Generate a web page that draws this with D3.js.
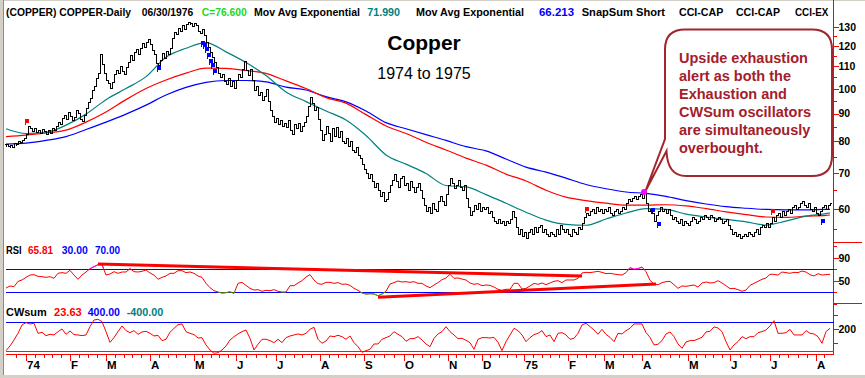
<!DOCTYPE html>
<html><head><meta charset="utf-8">
<script src="https://cdnjs.cloudflare.com/ajax/libs/d3/7.8.5/d3.min.js"></script>
<style>
html,body{margin:0;padding:0;background:#fff;}
svg{display:block;font-family:"Liberation Sans",Arial,Helvetica,sans-serif;}
</style></head><body>
<svg id="c" width="865" height="378"></svg>
<script>
// ---------------- DATA ----------------
// daily closes (one per trading day, late Dec 1973 .. early Aug 1975)
const closes = [
79.0,78.4,78.8,78.2,79.5,79.0,80.2,79.6,80.5,81.0,
82.5,85.5,84.8,83.6,84.5,83.2,84.0,82.8,84.2,83.5,
82.6,84.0,83.0,84.6,83.8,85.5,87.0,86.2,88.5,89.5,
88.0,90.5,89.2,87.5,88.8,91.5,90.2,88.0,87.2,89.5,
92.0,94.5,96.0,99.5,101.0,104.5,107.0,116.0,111.0,107.0,
104.0,102.5,100.5,103.0,106.5,108.5,107.0,110.0,108.0,106.5,
109.5,112.0,115.5,113.0,117.0,118.5,116.0,119.0,121.5,119.5,
122.0,123.5,121.0,118.0,116.0,111.5,110.5,113.0,116.5,114.0,
117.5,116.0,119.0,124.0,127.5,126.0,129.5,128.0,131.0,129.0,
131.5,133.0,132.0,130.5,132.5,131.0,128.0,126.5,129.0,125.5,
122.0,119.5,117.0,114.5,112.0,109.5,107.0,105.0,106.5,103.5,
102.0,104.5,101.0,103.5,100.5,104.0,106.5,105.0,109.0,112.5,
108.5,106.0,109.0,104.0,99.5,101.0,97.5,98.5,95.5,97.0,
100.0,95.0,91.5,89.0,87.0,88.5,86.0,87.5,85.5,86.5,
85.0,87.5,84.0,82.5,86.0,84.5,86.5,83.5,85.5,87.0,
89.0,93.0,96.5,94.0,91.5,92.5,88.0,84.0,80.5,82.5,
85.5,83.0,80.0,84.5,82.0,85.0,81.5,83.5,80.0,79.5,
81.0,78.5,80.0,77.0,76.5,78.0,75.5,74.5,72.5,71.0,
70.0,68.5,69.5,67.5,66.0,67.0,65.0,63.5,64.5,62.0,
62.5,64.5,66.5,68.0,69.5,67.5,66.0,68.5,69.0,66.5,
67.0,65.0,67.5,66.0,64.5,66.0,67.0,65.0,63.0,61.0,
59.5,60.5,59.0,61.5,60.0,59.5,62.0,63.5,62.0,61.0,
64.0,66.5,68.5,67.0,65.5,66.5,68.0,66.0,65.0,66.5,
63.0,60.5,58.5,59.5,61.0,60.0,61.5,59.5,60.5,60.0,
60.5,59.0,59.5,58.0,57.0,56.5,57.5,56.5,57.0,56.0,
57.0,56.5,57.5,59.5,58.0,55.5,54.0,55.0,53.5,54.5,
53.0,54.5,55.0,54.0,55.5,54.5,55.5,56.0,54.5,55.0,
54.0,53.5,54.5,54.0,53.5,55.0,54.0,56.0,55.0,54.5,
55.0,54.0,53.5,55.0,54.5,54.0,55.5,55.0,56.5,58.0,
59.0,58.5,59.5,60.0,59.0,60.5,59.5,60.0,59.0,60.0,
59.5,60.5,59.0,58.5,59.5,60.0,59.0,59.5,60.5,60.0,
61.5,62.5,62.0,63.0,63.5,62.5,63.5,64.0,63.0,64.5,
61.5,59.5,60.0,59.0,57.0,58.5,59.5,60.5,59.5,60.0,
59.0,60.0,58.5,57.5,58.0,57.0,56.5,57.5,56.0,57.0,
56.5,56.0,57.0,58.0,57.5,56.5,57.0,58.0,57.5,58.5,
58.0,57.5,58.5,58.0,57.0,57.5,58.0,57.5,56.5,57.0,
57.5,56.0,55.0,54.0,54.5,53.5,54.0,53.0,53.5,54.0,
53.5,54.5,54.0,53.5,54.5,55.0,54.0,55.5,56.0,55.5,
56.5,55.5,56.5,58.0,57.0,58.5,59.0,58.0,59.5,58.5,
59.5,60.0,59.0,60.5,61.0,60.0,60.5,61.5,62.0,61.0,
60.5,61.5,60.0,59.5,60.5,59.0,58.5,59.5,60.5,61.0,
60.0,61.0,61.5
];
// moving averages, read every 10 trading days (last point = last bar)
const tealMA = [84.4,82.7,83.1,85.7,89.8,95.5,100.1,105.3,114.4,118.8,121.7,117.0,111.8,105.8,98.7,94.7,91.0,87.6,82.0,75.5,72.6,69.8,66.3,65.9,63.8,61.5,59.2,57.25,56.2,56.0,57.5,59.0,60.1,59.9,58.7,58.0,57.4,56.8,56.05,57.0,58.2,58.85,59.0];
const redMA  = [81.6,82.1,82.9,83.9,86.8,90.6,95.5,100.1,103.8,106.9,109.2,109.1,108.1,106.8,103.4,100.1,96.3,94.1,89.6,85.4,82.7,79.7,77.1,74.5,72.3,69.6,67.6,65.0,63.1,62.2,61.5,61.0,61.0,61.1,60.8,60.1,59.3,58.6,58.0,57.9,58.2,58.4,58.5];
const blueMA = [79.1,79.4,80.3,81.6,84.1,86.8,89.8,93.3,97.4,100.6,102.8,103.6,103.6,103.0,100.7,99.5,96.7,94.6,91.0,86.6,84.4,82.3,80.3,78.2,76.8,74.2,71.7,70.2,68.4,66.6,65.4,64.5,64.1,63.3,62.2,61.3,60.6,60.2,59.9,59.8,59.8,59.9,59.9];
// RSI, read every 2 trading days
const rsi = [37.5,41,39.8,49,51.4,56,60,60.7,57.8,57.2,
56,57.2,54.3,63,64.2,63,68.2,60,52.6,60,
65.3,71.1,74.6,78,78,60,61.8,65.9,63,65.3,
65.3,71.1,65.9,65.3,66.5,68.8,63.6,60,52.6,56,
58.4,63,63,67.6,67.6,64.2,65.3,63,58.4,56,
45.6,38,32.8,30.5,28.8,29.4,31,28.2,45.6,47.3,
42,36.9,34,34.6,31.7,33.4,32.8,34.6,31.7,30.5,
30.5,41.5,41.5,46.2,50.2,56.6,60.7,51.4,45,43.9,
47.3,47.3,45.6,46.8,43.9,44.4,42,36.9,33.4,28.8,
27,27.6,27,24.1,27,31.7,44.4,46.8,49.7,47.9,
48.5,47.3,48.5,45.6,45.6,41,
38.1,42.7,46.8,52,54.9,61.3,54.3,54.9,53.1,51.4,
46.2,43.9,45,41.5,42.7,42,39.2,35.2,33.4,35.2,
35.2,45.6,45.6,35.7,36.9,41,45.6,43.9,46.2,43.3,
46.2,49.1,50.2,46.8,51.4,51.4,51.4,54.3,63.6,64.7,
64.2,65.3,66.5,64.7,62.4,63,61.8,60.7,60,64.2,
72.9,70,71.1,74,65.9,50.8,44.4,43.3,46.8,48.5,
49.1,43.3,36.9,41,40.4,41.5,42.7,39.2,46.2,47.9,
46.2,46.8,50.2,46.2,41.5,36.3,36.9,34.6,31.7,34,
42,45.6,49.1,52.6,54.9,61.3,61.3,60,65.3,64.2,
63,64.7,64.2,67,65.3,60.7,58.4,62.4,60,60.7,61.3];
// CWsum, read every 2 trading days
const cwsum = [-404,-272,-101,88,324,391,353,372,88,116,
22,59,41,135,211,59,154,50,41,22,
41,277,466,485,419,135,-168,-35,135,296,
164,107,164,59,126,145,88,12,31,-120,
-82,116,230,334,353,135,88,50,-45,-35,
-243,-385,-480,-461,-385,-272,-101,-7,69,135,
182,-54,-385,-224,-82,-82,-120,-177,-82,-177,
-35,12,41,69,41,88,201,258,-82,-196,
-130,12,-7,31,-7,-82,12,-177,-291,-451,
-404,-366,-215,-215,-82,-35,12,135,59,-7,
-139,-64,-64,-7,-101,-215,
-291,-54,69,135,277,135,41,-64,-54,-111,
-177,-366,-82,-35,-35,-45,-26,-168,-404,-149,
41,230,164,41,-149,-35,50,88,164,-7,
41,-149,88,107,41,-82,-54,88,324,372,
277,182,59,201,59,-26,-149,88,69,164,
230,353,353,353,107,-26,-243,-224,-120,69,
126,-7,-215,-338,-158,-120,-120,-73,-26,126,
145,268,239,135,-149,-385,-243,-149,-7,-64,
-7,-7,107,135,182,296,447,88,88,107,
201,41,41,41,164,88,69,-7,-196,135,230];
// calendar
const monthLabels = ["74","F","M","A","M","J","J","A","S","O","N","D","75","F","M","A","M","J","J","A"];
const leadingBars = 10;
const tradingDaysPerMonth = [22,18,22,22,21,20,22,22,20,22,17,21,22,18,19,23,21,20,23,8];
// axis ticks
const priceTicks = [60,70,80,90,100,110,120,130];
const priceMinorTicks = [55,65,75,85,95,105,115,125];
const rsiTicks = [90,50];
const rsiMinorTicks = [110,70,30,10];
const cwTicks = [200];
const cwMinorTicks = [600,-200];
const rsiLevels = [70,30];
const cwLevels = [400,-400];
// RSI trend lines [barIndex, rsi] pairs
const rsiTrend = [[[46,79.2],[288,58.3]],[[186,21.3],[325,44.4]]];
// signal markers [barIndex, price]
const redFlags = [[10,86.2],[290,59.2],[383,58.7]];
const blueFlags = [[76,110],[98,122.5],[99,121.5],[100,119.5],[101,116.2],[102,113.7],[103,111.4],[104,108.6],[323,60.3],[326,56.9],[408,57.5]];
const magentaDots = [[319,64.5]];
// header
const header = [
 ["(COPPER) COPPER-Daily","#000"],["06/30/1976","#000"],["C=76.600","#22d822"],
 ["Mov Avg Exponential","#000"],["71.990","#008080"],["Mov Avg Exponential","#000"],
 ["66.213","#0000ff"],["SnapSum Short","#000"],["CCI-CAP","#000"],["CCI-CAP","#000"],["CCI-EX","#000"]];
const rsiLegend = [["RSI","#000"],["65.81","#ff0000"],["30.00","#0000ff"],["70.00","#0000ff"]];
const cwLegend = [["CWsum","#000"],["23.63","#ff0000"],["400.00","#0000ff"],["-400.00","#008080"]];
const calloutLines = ["Upside exhaustion","alert as both the","Exhaustion and","CWSum oscillators","are simultaneously","overbought."];

// ---------------- DRAW ----------------
const svg = d3.select("#c");
const N = closes.length;
const AX = 833.5;
const x = d3.scaleLinear().domain([0, N-1]).range([6, 830]);
const y = d3.scaleLog().domain([52.6, 135.1]).range([240, 18]);
const yR = d3.scaleLinear().domain([30, 70]).range([292.3, 269.3]);
const yC = d3.scaleLinear().domain([-400, 400]).range([350.5, 322.3]);
const px = i => Math.round(x(i)) + 0.5;

svg.append("rect").attr("width",865).attr("height",378).attr("fill","#fff");
// frame
svg.append("rect").attr("x",0).attr("y",0).attr("width",865).attr("height",1).attr("fill","#d4d0c8");
svg.append("rect").attr("x",0).attr("y",0).attr("width",3).attr("height",378).attr("fill","#d4d0c8");
svg.append("rect").attr("x",3).attr("y",0).attr("width",1).attr("height",375).attr("fill","#8a8a8a");
svg.append("rect").attr("x",0).attr("y",375).attr("width",865).attr("height",3).attr("fill","#d4d0c8");

// header
const hx = [6,141.7,201.7,254,367.3,416,539,581.7,679,736,795];
const hw = [125,51.6,45,106,32.7,108,35,83.3,44.3,44,33.3];
svg.append("g").selectAll("text").data(header).join("text")
  .attr("x",(d,i)=>hx[i]).attr("y",15.5).attr("fill",d=>d[1])
  .attr("font-size",11).attr("font-weight","bold")
  .attr("textLength",(d,i)=>hw[i]).attr("lengthAdjust","spacingAndGlyphs").text(d=>d[0]);

// title
svg.append("text").attr("x",424).attr("y",50).attr("text-anchor","middle")
  .attr("font-size",21).attr("font-weight","bold").attr("fill","#000").text("Copper");
svg.append("text").attr("x",424).attr("y",79).attr("text-anchor","middle")
  .attr("font-size",16).attr("fill","#000").text("1974 to 1975");

// moving averages
const maLine = d3.line().x((d,k)=>x(Math.min(k*10, N-1))).y(d=>y(d)).curve(d3.curveMonotoneX);
[[blueMA,"#0000ff"],[redMA,"#ff0000"],[tealMA,"#008080"]].forEach(([arr,c])=>{
  svg.append("path").attr("d",maLine(arr)).attr("fill","none").attr("stroke",c).attr("stroke-width",1.2);
});

// price bars (open = previous close)
const gb = svg.append("g").attr("fill","#000").attr("shape-rendering","crispEdges");
closes.forEach((c,i)=>{
  const o = i>0 ? closes[i-1] : c;
  const X = Math.round(x(i));
  const yt = Math.round(y(Math.max(o,c))), yb = Math.round(y(Math.min(o,c)));
  gb.append("rect").attr("x",X).attr("y",yt).attr("width",1).attr("height",Math.max(3,yb-yt+1));
  gb.append("rect").attr("x",X-1).attr("y",Math.round(y(o))).attr("width",1).attr("height",1);
  gb.append("rect").attr("x",X+1).attr("y",Math.round(y(c))).attr("width",1).attr("height",1);
});

// flags
function flag(g, i, v, color, up){
  const X = Math.round(x(i)), Y = Math.round(y(v));
  g.append("rect").attr("x",X-1).attr("y",up?Y-5:Y).attr("width",4).attr("height",4).attr("fill",color);
  g.append("rect").attr("x",X-1).attr("y",up?Y-1:Y+4).attr("width",1).attr("height",2).attr("fill",color);
}
const gf = svg.append("g").attr("shape-rendering","crispEdges");
redFlags.forEach(d=>flag(gf,d[0],d[1],"#ff0000",true));
blueFlags.forEach(d=>flag(gf,d[0],d[1],"#0000ff",false));

// callout
const cp = "M685,29.5 H812 Q832,29.5 832,49.5 V156 Q832,176 812,176 H686 Q667.5,176 666.5,151 L645.5,191 L665,139 V49.5 Q665,29.5 685,29.5 Z";
svg.append("path").attr("d",cp).attr("fill","#fff").attr("stroke","#a3262c").attr("stroke-width",2);
svg.append("g").selectAll("text").data(calloutLines).join("text")
  .attr("x",679).attr("y",(d,i)=>63.3+i*17.9).attr("fill","#a3202a")
  .attr("font-size",14.5).attr("font-weight","bold").text(d=>d);
magentaDots.forEach(d=>svg.append("circle").attr("cx",x(d[0])).attr("cy",y(d[1])).attr("r",3).attr("fill","#ff00ff"));

// right axis (red)
const ga = svg.append("g").attr("stroke","#ff0000").attr("shape-rendering","crispEdges");
ga.append("line").attr("x1",AX).attr("x2",AX).attr("y1",0).attr("y2",355);
ga.append("line").attr("x1",AX).attr("x2",862).attr("y1",242.5).attr("y2",242.5);
ga.append("line").attr("x1",AX).attr("x2",862).attr("y1",303.5).attr("y2",303.5);
function ticks(vals, sc, len){ vals.forEach(v=>{const Y=Math.round(sc(v))+0.5; ga.append("line").attr("x1",AX).attr("x2",AX+len).attr("y1",Y).attr("y2",Y);}); }
ticks(priceTicks,y,5); ticks(priceMinorTicks,y,3);
ticks(rsiTicks,yR,5); ticks(rsiMinorTicks,yR,3);
ticks(cwTicks,yC,5); ticks(cwMinorTicks,yC,4);
const gl = svg.append("g").attr("font-size",10.5).attr("font-weight","bold").attr("fill","#000");
function labels(vals, sc){ vals.forEach(v=>gl.append("text").attr("x",838.5).attr("y",sc(v)).attr("dy","0.36em").text(v)); }
labels(priceTicks,y); labels(rsiTicks,yR); labels(cwTicks,yC);

// RSI panel
const gR = svg.append("g");
rsiLevels.forEach(v=>gR.append("line").attr("x1",6).attr("x2",AX).attr("y1",Math.round(yR(v))+0.5).attr("y2",Math.round(yR(v))+0.5).attr("stroke","#0000ff").attr("shape-rendering","crispEdges"));
const rsiLine = d3.line().x((d,k)=>x(k*2)).y(d=>yR(d));
const defs = svg.append("defs");
defs.append("clipPath").attr("id","above").append("rect").attr("x",0).attr("y",242).attr("width",865).attr("height",yR(70)-242);
defs.append("clipPath").attr("id","below").append("rect").attr("x",0).attr("y",yR(30)).attr("width",865).attr("height",304-yR(30));
gR.append("path").attr("d",rsiLine(rsi)).attr("fill","none").attr("stroke","#ff0000").attr("stroke-width",1);
gR.append("path").attr("d",rsiLine(rsi)).attr("fill","none").attr("stroke","#ff00ff").attr("stroke-width",1).attr("clip-path","url(#above)");
gR.append("path").attr("d",rsiLine(rsi)).attr("fill","none").attr("stroke","#00d000").attr("stroke-width",1).attr("clip-path","url(#below)");
rsiTrend.forEach(seg=>gR.append("line").attr("x1",x(seg[0][0])).attr("y1",yR(seg[0][1])).attr("x2",x(seg[1][0])).attr("y2",yR(seg[1][1])).attr("stroke","#ff0000").attr("stroke-width",3));

// legends
function legend(items, xs, ws, yb){
  svg.append("g").selectAll("text").data(items).join("text")
   .attr("x",(d,i)=>xs[i]).attr("y",yb).attr("fill",d=>d[1]).attr("font-size",11).attr("font-weight","bold")
   .attr("textLength",(d,i)=>ws[i]).attr("lengthAdjust","spacingAndGlyphs").text(d=>d[0]);
}
legend(rsiLegend,[6,28,61.7,95],[15.7,25,26,25],253.5);
legend(cwLegend,[6,54,87.7,126.7],[40.7,27.7,32.3,36.6],315.5);

// CWsum panel
const gC = svg.append("g");
cwLevels.forEach((v,i)=>gC.append("line").attr("x1",6).attr("x2",AX).attr("y1",Math.round(yC(v))+0.5).attr("y2",Math.round(yC(v))+0.5).attr("stroke",i?"#008080":"#0000ff").attr("stroke-width",1.3).attr("shape-rendering","crispEdges"));
const cwLine = d3.line().x((d,k)=>x(k*2)).y(d=>yC(d));
gC.append("path").attr("d",cwLine(cwsum)).attr("fill","none").attr("stroke","#ff0000").attr("stroke-width",1);

// x axis
const gx = svg.append("g").attr("stroke","#ff0000").attr("shape-rendering","crispEdges");
gx.append("line").attr("x1",6).attr("x2",AX).attr("y1",354.5).attr("y2",354.5);
const monthStart = []; let acc = leadingBars;
tradingDaysPerMonth.forEach(d=>{monthStart.push(acc); acc+=d;});
const segs = [[0,monthStart[0]]].concat(monthStart.map((m,k)=>[m, k<monthStart.length-1?monthStart[k+1]:N]));
segs.forEach(([a,b])=>{
  const n = Math.max(1, Math.round((b-a)/4.5)), st=(b-a)/n;
  for(let j=1;j<n;j++){ const X=px(a+j*st); gx.append("line").attr("x1",X).attr("x2",X).attr("y1",354.5).attr("y2",358); }
});
monthStart.forEach(m=>{ const X=px(m); gx.append("line").attr("x1",X).attr("x2",X).attr("y1",354.5).attr("y2",361); });
svg.append("g").selectAll("text").data(monthLabels).join("text")
  .attr("x",(d,k)=>Math.round(x(monthStart[k]))+1).attr("y",368.5)
  .attr("font-size",11.5).attr("font-weight","bold").attr("fill","#000").text(d=>d);
</script>
</body></html>
